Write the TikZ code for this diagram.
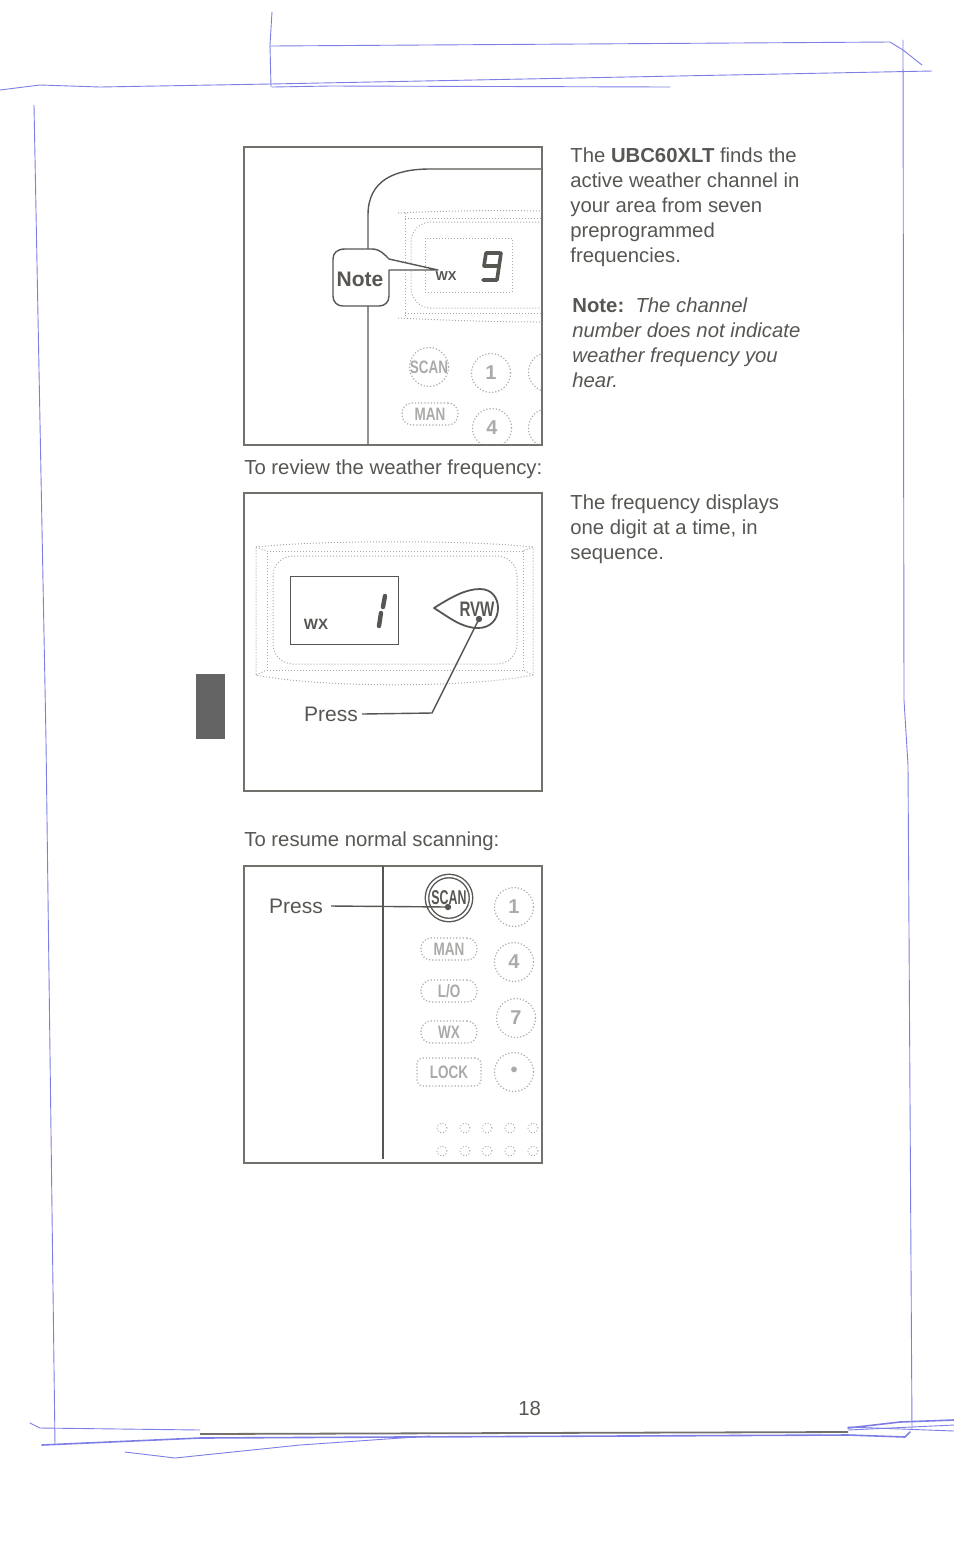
\documentclass[tikz,border=0pt]{standalone}
\usepackage{fontspec}
\setmainfont{Liberation Sans}
\usepackage{tikz}
\usetikzlibrary{arrows.meta, positioning}
\definecolor{inkgray}{RGB}{88,86,82}
\definecolor{framegray}{RGB}{115,113,108}
\definecolor{fadegray}{RGB}{170,170,168}
\definecolor{penblue}{RGB}{125,125,230}
\definecolor{tabgray}{RGB}{100,100,100}

\begin{document}
\begin{tikzpicture}[x=0.5pt,y=-0.5pt,
  panel/.style={draw=framegray,line width=1.1pt},
  lead/.style={draw=inkgray,line width=0.7pt},
  penline/.style={draw=penblue,line width=0.45pt,line cap=round,line join=round},
  bezel/.style={draw=fadegray,densely dotted,line width=0.5pt},
  body/.style={font=\fontsize{10.15}{12.5}\selectfont,color=inkgray,align=left,inner sep=0pt,anchor=north west},
  roundkey/.style={circle,draw=fadegray,densely dotted,line width=0.6pt,minimum size=19.5pt,inner sep=0pt,
                   font=\fontsize{10}{10}\selectfont\bfseries,text=fadegray},
  longkey/.style={rounded corners=5pt,draw=fadegray,densely dotted,line width=0.6pt,minimum width=28pt,minimum height=11pt,
                  inner sep=0pt},
  keytext/.style={font=\fontsize{9}{9}\selectfont,text=fadegray,xscale=0.75,inner sep=0pt},
  seg/.style={draw=inkgray,line width=1.8pt,line cap=round,line join=round}
]
\useasboundingbox (0,0) rectangle (954,1555);

% Pen marks round the page
\draw[penline] (272,12) -- (270,45) -- (271,87);
\draw[penline] (270,46) -- (890,42) -- (903,50) -- (922,65);
\draw[penline] (0,90) -- (40,85) -- (100,87) -- (270,84) -- (932,71);
\draw[penline] (272,87) -- (330,86) -- (670,87);
\draw[penline] (34,105) -- (46,740) -- (55,1445);
\draw[penline] (903,40) -- (904,700) -- (908,765) -- (912,1430);
\draw[penline] (30,1423) -- (40,1428) -- (200,1430);
\draw[penline,line width=0.8pt] (42,1445) -- (200,1438) -- (400,1437) -- (848,1435) -- (905,1437) -- (910,1432);
\draw[penline] (125,1452) -- (175,1458) -- (300,1445) -- (430,1436);
\draw[penline,line width=0.8pt] (848,1428) -- (900,1422) -- (954,1420);
\draw[penline] (848,1430) -- (954,1425);
\draw[penline] (848,1427) -- (954,1431);
\draw[draw=framegray,line width=0.9pt] (200,1434) -- (848,1432);

% Thumb tab
\fill[tabgray] (196,674) rectangle (225,739);

% Page text
\node[body] (introtext) at (570,147) {The \textbf{UBC60XLT} finds the\\active weather channel in\\your area from seven\\preprogrammed\\frequencies.};
\node[body] (notetext) at (572,297) {\textbf{Note:}\ \ \textit{The channel}\\\textit{number does not indicate}\\\textit{weather frequency you}\\\textit{hear.}};
\node[body] (digittext) at (570,494) {The frequency displays\\one digit at a time, in\\sequence.};
\node[body] (reviewtext) at (244,459) {To review the weather frequency:};
\node[body] (resumetext) at (244,831) {To resume normal scanning:};
\node[body] (pagenum) at (518,1401) {18};

% Panel 1: weather channel
\begin{scope}
  \clip (244,147) rectangle (541,445);
  \draw[lead] (368,445) -- (368,215) .. controls (368,180) and (395,169) .. (430,169) -- (542,169);
  \draw[bezel] (398,213) .. controls (440,211) and (490,210) .. (542,211);
  \draw[bezel] (398,318) .. controls (440,320) and (490,322) .. (542,322);
  \draw[bezel] (405,218) -- (542,218) (405,213) -- (405,318) (405,313) -- (542,313);
  \draw[bezel,rounded corners=10pt] (542,222) -- (411,222) -- (411,308) -- (542,308);
  \node[roundkey] (scanone) at (429,367) {};
  \node[keytext] (scanonetext) at (429,367) {\textbf{SCAN}};
  \node[roundkey] (keyone) at (491,373) {1};
  \node[longkey] (manone) at (430,414) {};
  \node[keytext] (manonetext) at (430,414) {\textbf{MAN}};
  \node[roundkey] (keyfour) at (492,428) {4};
  \node[roundkey] (keytwo) at (548,372) {};
  \node[roundkey] (keyfive) at (548,428) {};
\end{scope}
\draw[panel] (244,147) rectangle (542,445);
\node[draw=fadegray,densely dotted,line width=0.5pt,minimum width=43.5pt,minimum height=27pt,inner sep=0pt] (lcdone) at (468.5,265) {};
\node[font=\fontsize{6.5}{7}\selectfont\bfseries,text=inkgray,inner sep=0pt] (wxone) at (446,276) {WX};
\draw[seg] (500,253) -- (486,253) -- (484,266) -- (498,266) (501,253) -- (497,280) -- (483,280);
\draw[draw=inkgray,fill=white,line width=0.7pt,line join=round]
  (345,249) -- (372,249) .. controls (380,249) and (384,254) .. (389,259)
  -- (438,270) -- (389,270) -- (389,296) .. controls (389,302) and (385,306) .. (379,306)
  -- (343,306) .. controls (337,306) and (333,302) .. (333,296)
  -- (333,259) .. controls (333,253) and (337,249) .. (345,249) -- cycle;
\node[font=\fontsize{10.5}{12}\selectfont\bfseries,text=inkgray,inner sep=0pt] (noteone) at (360,279) {Note};

% Panel 2: review key
\draw[panel] (244,493) rectangle (542,791);
\draw[bezel] (256,547) .. controls (320,540) and (470,540) .. (533,547) -- (533,675)
  .. controls (470,688) and (320,688) .. (256,675) -- cycle;
\draw[bezel] (267,551) -- (523,551) -- (523,670) -- (267,670) -- cycle;
\draw[bezel] (256,547) -- (267,551) (533,547) -- (523,551) (533,675) -- (523,670) (256,675) -- (267,670);
\draw[bezel,rounded corners=10pt] (273,556) rectangle (517,664);
\node[draw=inkgray,line width=0.5pt,minimum width=54pt,minimum height=34pt,inner sep=0pt] (lcdtwo) at (344,610) {};
\node[font=\fontsize{7.5}{8}\selectfont\bfseries,text=inkgray,inner sep=0pt] (wxtwo) at (316,624) {WX};
\draw[seg,line width=2.2pt] (385,596) -- (383,607) (381,613) -- (379,626);
\draw[draw=inkgray,line width=0.9pt,line join=round]
  (434,608) .. controls (450,598) and (465,589) .. (480,589)
  .. controls (492,589) and (498,598) .. (498,608)
  .. controls (498,620) and (490,628) .. (478,628)
  .. controls (462,628) and (450,618) .. cycle;
\node[font=\fontsize{10.5}{11}\selectfont\bfseries,text=inkgray,xscale=0.72,inner sep=0pt] (rvwkey) at (477,609) {RVW};
\coordinate (rvwdot) at (479,619);
\coordinate (rvwbend) at (432,713);
\node[font=\fontsize{10.5}{12}\selectfont,text=inkgray,inner sep=0pt] (presstwo) at (331,714) {Press};
\fill[inkgray] (rvwdot) circle (1.6pt);
\draw[lead] (presstwo.east) ++(4,0) -- (rvwbend) -- (rvwdot);

% Panel 3: scan key
\draw[panel] (244,866) rectangle (542,1163);
\draw[lead] (383,866) -- (383,1159);
\node[circle,draw=inkgray,line width=0.7pt,minimum size=22pt,inner sep=0pt,double,double distance=1pt] (scanthree) at (449,898) {};
\node[font=\fontsize{10}{11}\selectfont\bfseries,text=inkgray,xscale=0.62,inner sep=0pt] (scanthreetext) at (449,898) {SCAN};
\coordinate (scandot) at (448,907);
\node[font=\fontsize{10.5}{12}\selectfont,text=inkgray,inner sep=0pt] (pressthree) at (296,906) {Press};
\fill[inkgray] (scandot) circle (1.6pt);
\draw[lead] (pressthree.east) ++(8,0) -- (scandot);
\node[longkey] (mankey) at (449,949) {};
\node[keytext] (mantext) at (449,949) {\textbf{MAN}};
\node[longkey] (lokey) at (449,991) {};
\node[keytext] (lotext) at (449,991) {\textbf{L/O}};
\node[longkey] (wxkey) at (449,1032) {};
\node[keytext] (wxtext) at (449,1032) {\textbf{WX}};
\node[longkey,minimum width=32pt,minimum height=14pt,rounded corners=3pt] (lockkey) at (449,1072) {};
\node[keytext] (locktext) at (449,1072) {\textbf{LOCK}};
\foreach \id/\lbl/\x/\y in {a/1/514/907, b/4/514/962, c/7/516/1018, d/\textbullet/514/1072} {
  \node[roundkey] (num\id) at (\x,\y) {\lbl};
}
\foreach \row/\y in {up/1128, lo/1151} {
  \foreach \x in {442,465,487,510,533} {
    \node[circle,draw=fadegray,densely dotted,line width=0.5pt,minimum size=5pt,inner sep=0pt] (led\row\x) at (\x,\y) {};
  }
}
\end{tikzpicture}
\end{document}
